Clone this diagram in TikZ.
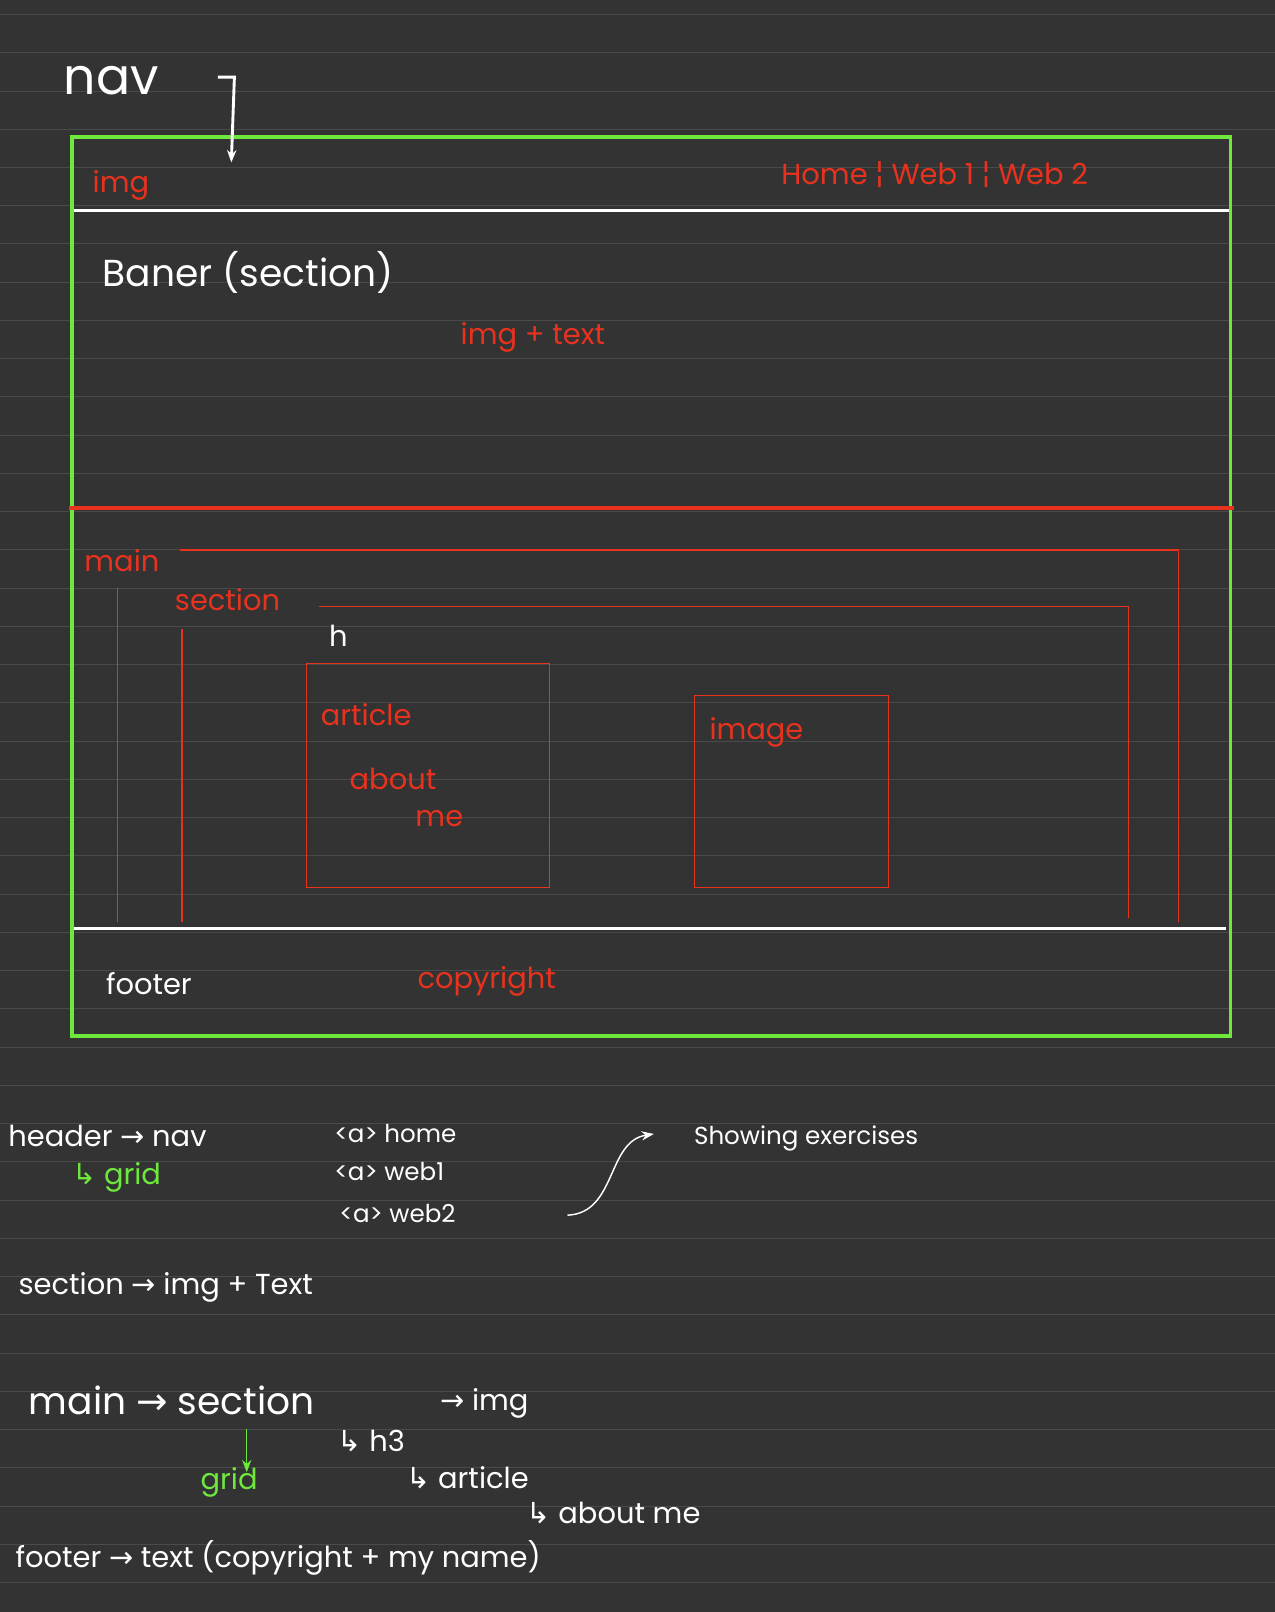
\documentclass[tikz,border=0pt]{standalone}
\usepackage{fontspec}
\setmainfont{Poppins}
\newfontfamily\symfont{DejaVu Sans}
\newcommand{\ar}{{\symfont →}}
\newcommand{\hk}{{\symfont ↳}}
\usetikzlibrary{arrows.meta}
\definecolor{board}{HTML}{333333}
\definecolor{rule}{HTML}{4A4A4A}
\definecolor{lime}{HTML}{6EE83C}
\definecolor{pen}{HTML}{E8321E}
\tikzset{
  every node/.style = {font = \fontsize{40}{44}\selectfont, inner sep=0pt},
  red/.style = {text=pen},
  wht/.style = {text=white},
  big/.style = {font = \fontsize{70}{74}\selectfont},
  mid/.style = {font = \fontsize{52}{56}\selectfont},
  small/.style = {font = \fontsize{34}{38}\selectfont},
  >={Stealth[length=6mm]}
}
\begin{document}
\begin{tikzpicture}[x=0.05cm,y=-0.05cm]
\useasboundingbox (0,0) rectangle (1240,1568);
\fill[board] (0,0) rectangle (1240,1568);
\foreach \i in {0,...,41}
  \draw[rule, line width=1pt] (0,{14+37.2*\i}) -- (1240,{14+37.2*\i});

% Layout box
\draw[lime, line width=5pt] (70,133) rectangle (1197,1008);
\draw[white, line width=4pt] (72,205) -- (1195,205);
\draw[white, line width=4pt] (72,903) -- (1193,903);
\draw[pen, line width=5pt] (67,494) -- (1200,494);

% main and section frames
\draw[pen, line width=1.5pt] (114,897) -- (114,572);
\draw[pen, line width=1.5pt] (175,535) -- (1146,535) -- (1146,897);
\draw[pen, line width=1.5pt] (177,897) -- (177,612);
\draw[pen, line width=1.5pt] (310,590) -- (1098,590) -- (1098,893);
\node[draw=pen, line width=1.5pt, minimum width=236*0.05cm, minimum height=218*0.05cm, anchor=north west] (article) at (298,645) {};
\node[draw=pen, line width=1.5pt, minimum width=189*0.05cm, minimum height=187*0.05cm, anchor=north west] (image) at (675,676) {};

% Labels in the box
\node[wht, big, anchor=west] (navlbl) at (62,78) {nav};
\coordinate (navend) at (225,158);
\draw[white, line width=4pt, ->] (212,75) -- (228,75) -- (navend);
\node[red, anchor=west] (imglbl) at (90,180) {img};
\node[red, anchor=west] (links) at (760,170) {Home ¦ Web 1 ¦ Web 2};
\node[wht, mid, anchor=west] (baner) at (100,265) {Baner (section)};
\node[red, anchor=west] (imgtext) at (448,328) {img + text};
\node[red, anchor=west] (mainlbl) at (82,545) {main};
\node[red, anchor=west] (seclbl) at (170,583) {section};
\node[wht, anchor=west] (hlbl) at (320,618) {h};
\node[red, anchor=west] (artlbl) at (312,695) {article};
\node[red, anchor=west] (aboutlbl) at (340,758) {about};
\node[red, anchor=west] (melbl) at (404,796) {me};
\node[red, anchor=west] (imagelbl) at (690,712) {image};
\node[wht, anchor=west] (footlbl) at (103,957) {footer};
\node[red, anchor=west] (copylbl) at (406,955) {copyright};

% Notes
\node[wht, anchor=west] (header) at (8,1105) {header \ar{} nav};
\node[text=lime, anchor=west] (grid1) at (70,1145) {\hk{} grid};
\node[wht, small, anchor=west] (a1) at (325,1103) {<a> home};
\node[wht, small, anchor=west] (a2) at (325,1140) {<a> web1};
\node[wht, small, anchor=west] (a3) at (330,1180) {<a> web2};
\node[wht, small, anchor=west] (show) at (675,1107) {Showing exercises};
\coordinate (curvestart) at (552,1182);
\coordinate (curveend) at (636,1103);
\draw[white, line width=2pt, ->] (curvestart) .. controls (600,1180) and (590,1110) .. (curveend);
\node[wht, anchor=west] (secnote) at (18,1252) {section \ar{} img + Text};
\node[wht, mid, anchor=west] (mainnote) at (28,1362) {main \ar{} section};
\node[wht, anchor=west] (imgnote) at (428,1365) {\ar{} img};
\node[wht, anchor=west] (h3note) at (328,1402) {\hk{} h3};
\node[wht, anchor=west] (artnote) at (395,1437) {\hk{} article};
\node[wht, anchor=west] (aboutnote) at (512,1472) {\hk{} about me};
\node[text=lime, anchor=west] (grid2) at (195,1442) {grid};
\coordinate (gridtop) at (240,1390);
\draw[lime, line width=2pt, ->] (gridtop) -- (240,1432);
\node[wht, anchor=west] (footnote) at (15,1515) {footer \ar{} text (copyright + my name)};
\end{tikzpicture}
\end{document}
